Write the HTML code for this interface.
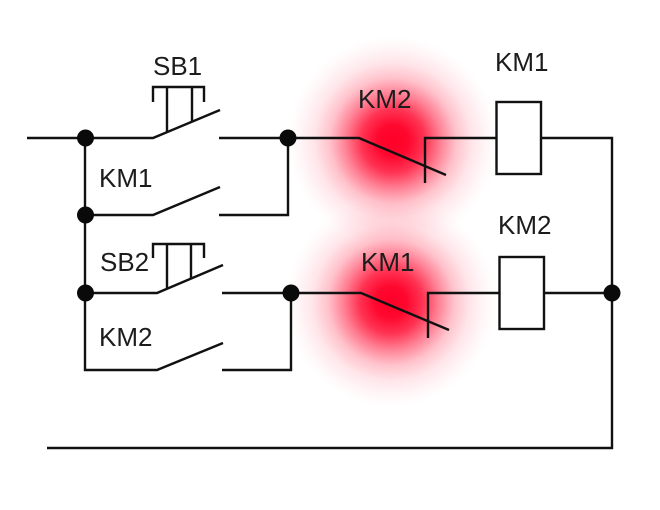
<!DOCTYPE html>
<html>
<head>
<meta charset="utf-8">
<style>
html,body{margin:0;padding:0;background:#fff;width:660px;height:510px;overflow:hidden}
svg{display:block}
text{font-family:"Liberation Sans",sans-serif;font-size:26px;fill:#1c1c1c}
</style>
</head>
<body>
<svg width="660" height="510" viewBox="0 0 660 510" xmlns="http://www.w3.org/2000/svg">
<defs>
<radialGradient id="glow">
<stop offset="0" stop-color="#ff0028" stop-opacity="1"/>
<stop offset="0.15" stop-color="#ff0028" stop-opacity="0.97"/>
<stop offset="0.3" stop-color="#ff0028" stop-opacity="0.8"/>
<stop offset="0.45" stop-color="#ff0028" stop-opacity="0.5"/>
<stop offset="0.6" stop-color="#ff0028" stop-opacity="0.24"/>
<stop offset="0.75" stop-color="#ff0028" stop-opacity="0.1"/>
<stop offset="0.9" stop-color="#ff0028" stop-opacity="0.03"/>
<stop offset="1" stop-color="#ff0028" stop-opacity="0"/>
</radialGradient>
</defs>
<rect width="660" height="510" fill="#fff"/>
<circle cx="393" cy="141" r="105" fill="url(#glow)"/>
<circle cx="391" cy="302" r="105" fill="url(#glow)"/>
<g fill="none" stroke="#111" stroke-width="2.4" stroke-linejoin="miter">
<path d="M27 138H153L220 110"/>
<path d="M219 138H359L446 175"/>
<path d="M85 138V370H157L223 343"/>
<path d="M85 215H153L220 187"/>
<path d="M219 215H288V138"/>
<path d="M85 293H157L223 265"/>
<path d="M222 293H361L449 330"/>
<path d="M222 370H291V293"/>
<path d="M153 102V87H204V102M167 87V132M192 87V122"/>
<path d="M153 258V244H204V258M167 244V288M191 244V278"/>
<path d="M425 183V138H496"/>
<path d="M428 338V293H499"/>
<rect x="496.500" y="102" width="44.500" height="72" fill="#fff"/>
<rect x="499.500" y="257" width="44.500" height="72" fill="#fff"/>
<path d="M541 138H612V448H47"/>
<path d="M544 293H612"/>
</g>
<g fill="#0a0a0a">
<circle cx="85.500" cy="138" r="8.500"/>
<circle cx="85.500" cy="215" r="8.500"/>
<circle cx="85.500" cy="293" r="8.500"/>
<circle cx="288" cy="138" r="8.500"/>
<circle cx="291" cy="293" r="8.500"/>
<circle cx="612" cy="293" r="8.500"/>
</g>
<text x="153" y="75">SB1</text>
<text x="99" y="187">KM1</text>
<text x="100" y="271">SB2</text>
<text x="99" y="346">KM2</text>
<text x="358" y="108">KM2</text>
<text x="361" y="271">KM1</text>
<text x="495" y="71">KM1</text>
<text x="498" y="234">KM2</text>
</svg>
</body>
</html>
